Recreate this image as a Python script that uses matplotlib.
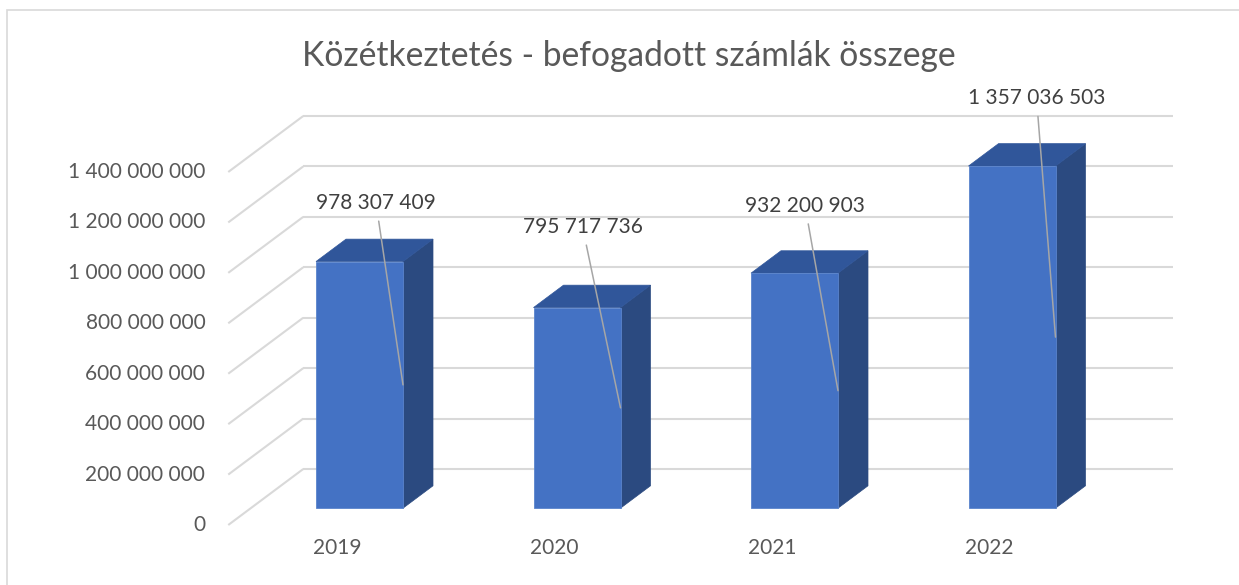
import matplotlib.pyplot as plt
from matplotlib.patches import Polygon, Rectangle

years = ['2019', '2020', '2021', '2022']
amounts = [978307409, 795717736, 932200903, 1357036503]
y_ticks = [0, 200000000, 400000000, 600000000, 800000000,
           1000000000, 1200000000, 1400000000]
title = 'Közétkeztetés - befogadott számlák összege'

# label offsets (pixels) from the leader anchor point
label_offsets = [(-27, 182), (-38, 181), (-33, 185), (-19, 239)]

W, H = 1239, 585
PX_CAT = 217.5
X0 = 337
PX_VAL = 353 / 1.4e9
Y0 = 525
DX = 75 / PX_CAT
DY = 56 / PX_VAL
HALF = 0.2
F, B = 0.3, 0.7

FRONT = '#4472C4'
SIDE = '#2B4A80'
TOP = '#30569A'
GRID = '#d9d9d9'
TXT = '#595959'


def fmt(v):
    return f'{v:,}'.replace(',', ' ')


def draw_plot():
    fig = plt.figure(figsize=(W / 100, H / 100), dpi=100)
    plt.rcParams['font.family'] = ['Lato', 'DejaVu Sans']
    ax = fig.add_axes([0, 0, 1, 1])
    ax.set_xlim(-X0 / PX_CAT, (W - X0) / PX_CAT)
    ax.set_ylim(-(H - Y0) / PX_VAL, Y0 / PX_VAL)
    ax.axis('off')

    # walls: gridlines on the left and back walls
    left = -0.5
    right = len(years) - 0.5
    for v in y_ticks:
        ax.plot([left, left + DX], [v, v + DY], color=GRID, lw=1.5, zorder=1,
                solid_capstyle='butt')
        ax.plot([left + DX, right + DX], [v + DY, v + DY], color=GRID, lw=1.5,
                zorder=1, solid_capstyle='butt')
        ax.annotate(fmt(v), (left, v), xytext=(-23, 0), textcoords='offset pixels',
                    ha='right', va='center', fontsize=15, color=TXT)

    for i, (yr, v) in enumerate(zip(years, amounts)):
        xl, xr = i - HALF, i + HALF
        front = [(xl + F * DX, F * DY), (xr + F * DX, F * DY),
                 (xr + F * DX, v + F * DY), (xl + F * DX, v + F * DY)]
        side = [(xr + F * DX, F * DY), (xr + B * DX, B * DY),
                (xr + B * DX, v + B * DY), (xr + F * DX, v + F * DY)]
        top = [(xl + F * DX, v + F * DY), (xr + F * DX, v + F * DY),
               (xr + B * DX, v + B * DY), (xl + B * DX, v + B * DY)]
        ax.add_patch(Polygon(side, closed=True, fc=SIDE, ec=SIDE, lw=0.5, zorder=2))
        ax.add_patch(Polygon(top, closed=True, fc=TOP, ec=TOP, lw=0.5, zorder=2))
        ax.add_patch(Polygon(front, closed=True, fc=FRONT, ec='#5a84cc', lw=0.6, zorder=3))

        ax.annotate(yr, (i, 0), xytext=(0, -23), textcoords='offset pixels',
                    ha='center', va='center', fontsize=15, color=TXT)

        anchor = (xr + F * DX, v / 2 + F * DY)
        ax.annotate(fmt(v), anchor, xytext=label_offsets[i],
                    textcoords='offset pixels', ha='center', va='center',
                    fontsize=15, color='#404040', zorder=5,
                    arrowprops=dict(arrowstyle='-', color='#a6a6a6', lw=1.1,
                                    shrinkA=4, shrinkB=0))

    fig.text(629 / W, 1 - 56 / H, title, ha='center', va='center',
             fontsize=24.2, color=TXT)

    # chart frame
    fig.add_artist(Rectangle((7 / W, -0.1), 1.1, 1.1 - 10 / H, transform=fig.transFigure,
                             fill=False, ec=GRID, lw=1.2))

    fig.savefig('out.png', dpi=100)


if __name__ == '__main__':
    draw_plot()
